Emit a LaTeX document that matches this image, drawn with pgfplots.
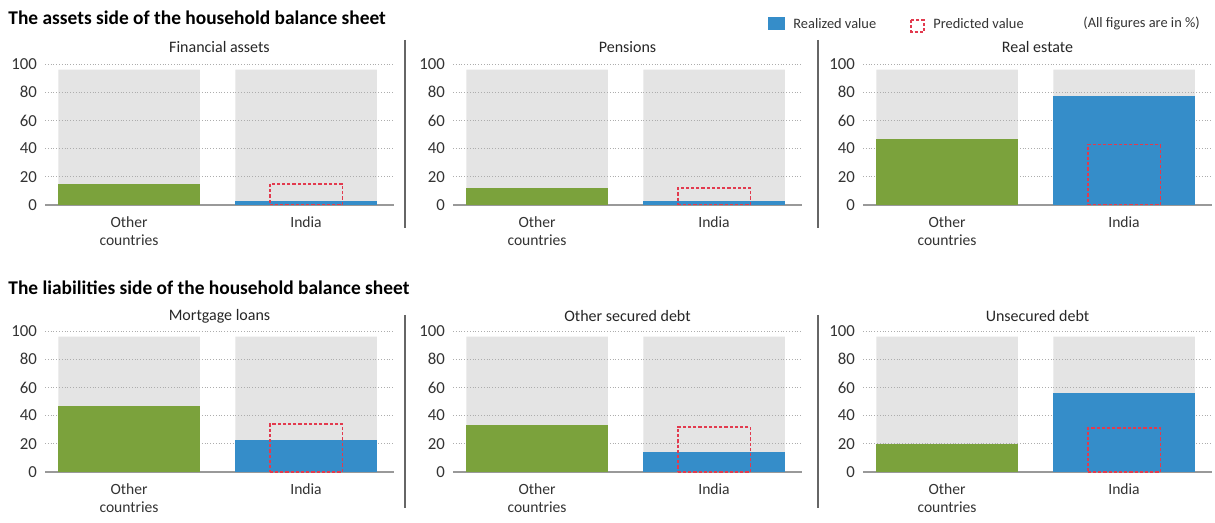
\documentclass[border=0pt]{standalone}
\usepackage{pgfplots}
\pgfplotsset{compat=1.18}
\usepackage{fontspec}
\setmainfont{Carlito}

\definecolor{barGreen}{HTML}{7BA23C}
\definecolor{barBlue}{HTML}{358DC9}
\definecolor{bgGray}{HTML}{E4E4E4}
\definecolor{predRed}{HTML}{E23A4E}
\definecolor{txt}{HTML}{333333}

\pgfplotsset{
  panel/.style={
    set layers,
    scale only axis, width=174.5pt, height=70.5pt,
    xmin=-0.475, xmax=1.497, ymin=0, ymax=100,
    axis line style={draw=none},
    major tick length=0pt,
    xtick={0,1}, xticklabels={{Other\\countries},India},
    xtick pos=bottom, ytick pos=left,
    ytick={20,40,60,80,100},
    ymajorgrids,
    grid style={densely dotted, draw=black!32, line width=0.4pt},
    extra y ticks={0},
    extra y tick style={ymajorgrids=true, grid style={solid, draw=black!40, line width=0.7pt}},
    /pgf/number format/assume math mode=true,
    tick label style={font=\fontsize{8.4}{9}\selectfont, text=txt},
    yticklabel style={anchor=east, xshift=-0.5pt},
    xticklabel style={align=center, anchor=north, yshift=-2.5pt, font=\fontsize{7.8}{9}\selectfont},
    title style={font=\fontsize{8}{9}\selectfont, text=black!85, at={(0.5,1)}, anchor=center, yshift=2.5pt},
  },
  bg/.style={ybar, bar shift=0pt, bar width=0.8, fill=bgGray, draw=none, on layer=axis background},
  other/.style={ybar, bar shift=0pt, bar width=0.8, fill=barGreen, draw=none},
  india/.style={ybar, bar shift=0pt, bar width=0.8, fill=barBlue, draw=none},
  pred/.style={ybar, bar shift=0pt, bar width=0.41, fill=none, draw=predRed, line width=0.8pt, dash pattern=on 1.6pt off 1pt},
}

% shares in %: other countries, India realized, India predicted
\newcommand{\panel}[5]{%
  \begin{axis}[panel, at={(#1)}, title={#2}]
    \addplot[bg] coordinates {(0,96) (1,96)};
    \addplot[other] coordinates {(0,#3)};
    \addplot[india] coordinates {(1,#4)};
    \addplot[pred] coordinates {(1,#5)};
  \end{axis}}

\begin{document}
\begin{tikzpicture}
\path (0,0) rectangle (607.5pt,-261.5pt);

% section headings
\node[anchor=west, font=\fontsize{9.7}{10}\selectfont\bfseries, inner sep=0] at (4pt,-8.7pt)
  {The assets side of the household balance sheet};
\node[anchor=west, font=\fontsize{9.7}{10}\selectfont\bfseries, inner sep=0] at (4pt,-143.7pt)
  {The liabilities side of the household balance sheet};

% legend
\fill[barBlue] (384pt,-8.5pt) rectangle (392.5pt,-15pt);
\node[anchor=west, font=\fontsize{7.2}{8}\selectfont, text=txt, inner sep=0] at (396.5pt,-11.8pt) {Realized value};
\draw[predRed, line width=0.8pt, dash pattern=on 1.6pt off 1pt] (455.5pt,-10pt) rectangle (462pt,-16pt);
\node[anchor=west, font=\fontsize{7.2}{8}\selectfont, text=txt, inner sep=0] at (466.5pt,-11.8pt) {Predicted value};
\node[anchor=west, font=\fontsize{7.2}{8}\selectfont, text=txt, inner sep=0] at (541.5pt,-11.8pt) {(All figures are in \%)};

% panel separators
\foreach \xx in {202.5pt,409pt}{
  \draw[black!60, line width=0.7pt] (\xx,-20pt) -- (\xx,-114pt);
  \draw[black!60, line width=0.7pt] (\xx,-157.5pt) -- (\xx,-254pt);
}

% assets
\panel{22.5pt,-102.5pt}{Financial assets}{15}{3}{15}
\panel{226.5pt,-102.5pt}{Pensions}{12}{3}{12}
\panel{431.5pt,-102.5pt}{Real estate}{47}{77}{43}

% liabilities
\pgfplotsset{every axis title/.append style={yshift=-1pt}}
\panel{22.5pt,-236pt}{Mortgage loans}{47}{23}{34}
\panel{226.5pt,-236pt}{Other secured debt}{33}{14}{32}
\panel{431.5pt,-236pt}{Unsecured debt}{20}{56}{31}
\end{tikzpicture}
\end{document}
